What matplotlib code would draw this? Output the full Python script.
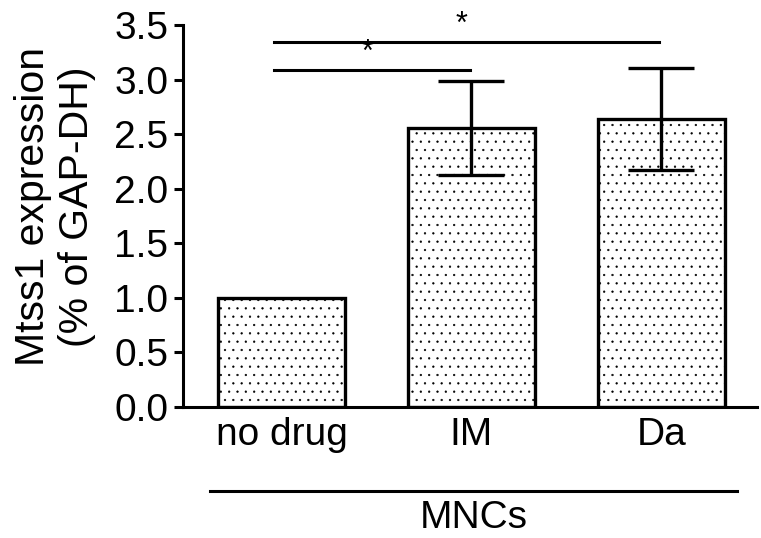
import matplotlib
matplotlib.use("Agg")
import matplotlib.pyplot as plt
import numpy as np

plt.rcParams['font.family'] = ['Liberation Sans', 'DejaVu Sans']
plt.rcParams['hatch.color'] = '#8c8c8c'
plt.rcParams['hatch.linewidth'] = 0.4

categories = ["no drug", "IM", "Da"]
values = [1.0, 2.56, 2.64]
errors = [0.0, 0.43, 0.47]
yticks = [0.0, 0.5, 1.0, 1.5, 2.0, 2.5, 3.0, 3.5]
group_label = "MNCs"
ylabel = "Mtss1 expression\n(% of GAP-DH)"
comparisons = [(0, 1, 3.09, "*"), (0, 2, 3.34, "*")]

FS = 28
fig = plt.figure(figsize=(7.61, 5.38), dpi=100)
ax = fig.add_axes([0.2405, 0.2435, 0.7542, 0.71])

x = np.arange(len(categories))
ax.bar(x, values, width=0.67, color='white', edgecolor='black', linewidth=2.4,
       hatch='..', zorder=2)
for xi, v, e in zip(x, values, errors):
    if e > 0:
        ax.errorbar(xi, v, yerr=e, fmt='none', ecolor='black', elinewidth=2.4,
                    capsize=23.5, capthick=2.4, zorder=3)

ax.set_xlim(-0.52, 2.505)
ax.set_ylim(0, 3.5)
ax.set_yticks(yticks)
ax.set_yticklabels([f"{t:.1f}" for t in yticks], fontsize=FS)
ax.set_xticks(x)
ax.set_xticklabels(categories, fontsize=FS)
ax.tick_params(axis='y', length=6.5, width=2.2, pad=4)
ax.tick_params(axis='x', length=0, pad=7)
for s in ['top', 'right']:
    ax.spines[s].set_visible(False)
for s in ['left', 'bottom']:
    ax.spines[s].set_linewidth(2.2)
ax.set_ylabel(ylabel, fontsize=29.5, linespacing=1.2)
ax.yaxis.set_label_coords(-0.152, 0.524)

for i, j, y, lab in comparisons:
    ax.plot([x[i] - 0.04, x[j] - 0.01], [y, y], color='black', lw=2.2, clip_on=False)
    ax.text((x[i] + x[j]) / 2 - 0.05, y + 0.02, lab, ha='center', va='bottom',
            fontsize=22)

ax.plot([-0.38, 2.4], [-0.77, -0.77], color='black', lw=2.2, clip_on=False)
ax.text(1.01, -1.109, group_label, ha='center', va='baseline', fontsize=FS)

fig.savefig("out.png", dpi=100)
